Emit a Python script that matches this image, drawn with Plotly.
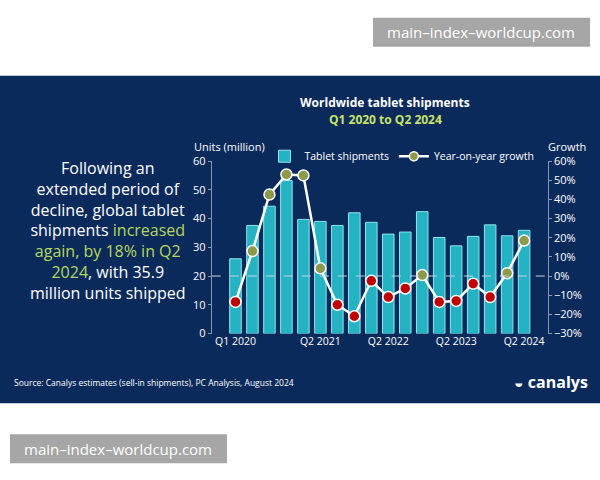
import plotly.graph_objects as go

quarters = ["Q1 2020", "Q2 2020", "Q3 2020", "Q4 2020", "Q1 2021", "Q2 2021", "Q3 2021", "Q4 2021",
            "Q1 2022", "Q2 2022", "Q3 2022", "Q4 2022", "Q1 2023", "Q2 2023", "Q3 2023", "Q4 2023",
            "Q1 2024", "Q2 2024"]
shipments = [26.0, 37.6, 44.3, 53.2, 39.7, 39.0, 37.6, 42.0, 38.7, 34.6, 35.3, 42.4, 33.4, 30.5, 33.8, 37.8, 34.0, 35.9]
growth = [-13.5, 13, 42.5, 53, 52.5, 4, -15, -21, -2.5, -11, -6.5, 0.5, -13.5, -13, -4, -11, 1.5, 18.5]
tick_labels = ["Q1 2020", "Q2 2021", "Q2 2022", "Q2 2023", "Q2 2024"]

marker_cols = ["#c00000" if g < 0 else "#8c9a4c" for g in growth]
font = "Open Sans"

fig = go.Figure()
fig.add_trace(go.Bar(x=quarters, y=shipments, name="Tablet shipments",
                     marker=dict(color="#25b3c3", line=dict(color="#8fe3ec", width=1)),
                     width=0.68))
fig.add_trace(go.Scatter(x=quarters, y=growth, name="Year-on-year growth", yaxis="y2",
                         mode="lines+markers", line=dict(color="white", width=2.5), showlegend=False,
                         marker=dict(color=marker_cols, size=11, line=dict(color="white", width=1.5))))
# legend entry with the green marker
fig.add_trace(go.Scatter(x=[None], y=[None], name="Year-on-year growth", yaxis="y2",
                         mode="lines+markers", line=dict(color="white", width=2.5),
                         marker=dict(color="#8c9a4c", size=9, line=dict(color="white", width=1.5))))

fig.add_shape(type="rect", xref="paper", yref="paper", x0=0, x1=1, y0=1 - 408 / 480, y1=1 - 70 / 480,
              fillcolor="#0b2a5c", line_width=0, layer="below")
fig.add_shape(type="line", xref="paper", yref="y", x0=0.353, x1=0.913, y0=20, y1=20,
              line=dict(color="#c8d4e4", width=1, dash="dash"))

ann = []
ann.append(dict(x=385 / 600, y=1 - 98 / 480, text="<b>Worldwide tablet shipments</b>",
                font=dict(size=12, color="white")))
ann.append(dict(x=385 / 600, y=1 - 115 / 480, text="<b>Q1 2020 to Q2 2024</b>",
                font=dict(size=12, color="#c9e36a")))
g = "<span style='color:#b6d85a'>"
left_text = ("Following an<br>extended period of<br>decline, global tablet<br>shipments " + g +
             "increased</span><br>" + g + "again, by 18% in Q2</span><br>" + g +
             "2024</span>, with 35.9<br>million units shipped")
ann.append(dict(x=108 / 600, y=1 - 230 / 480, text=left_text, font=dict(size=16, color="white"),
                align="center"))
ann.append(dict(x=192 / 600, y=1 - 143 / 480, text="Units (million)", xanchor="left",
                font=dict(size=11, color="white")))
ann.append(dict(x=588 / 600, y=1 - 143 / 480, text="Growth", xanchor="right",
                font=dict(size=11, color="white")))
ann.append(dict(x=12 / 600, y=1 - 387 / 480, text="Source: Canalys estimates (sell-in shipments), PC Analysis, August 2024",
                xanchor="left", font=dict(size=8.5, color="white")))
ann.append(dict(x=590 / 600, y=1 - 386 / 480, text="<b>\u25d2 canalys</b>", xanchor="right",
                font=dict(size=16, color="white")))
for x0, y0 in [(373, 10), (10, 440)]:
    fig.add_shape(type="rect", xref="paper", yref="paper", x0=x0 / 600, x1=(x0 + 217) / 600,
                  y0=1 - (y0 + 30) / 480, y1=1 - y0 / 480, fillcolor="#a6a6a6", line_width=0)
    ann.append(dict(x=(x0 + 108) / 600, y=1 - (y0 + 15) / 480, text="main\u2013index\u2013worldcup.com",
                    font=dict(size=15, color="white")))
for a in ann:
    a.update(xref="paper", yref="paper", showarrow=False, yanchor="middle")
    a.setdefault("xanchor", "center")

fig.update_layout(
    width=600, height=480, margin=dict(l=0, r=0, t=0, b=0),
    paper_bgcolor="white", plot_bgcolor="rgba(0,0,0,0)",
    font=dict(family=font, color="white", size=11),
    annotations=ann, bargap=0.3,
    legend=dict(orientation="h", x=0.67, y=1 - 153 / 480, xanchor="center", yanchor="middle",
                bgcolor="rgba(0,0,0,0)", font=dict(size=10.5, color="white")),
    xaxis=dict(domain=[0.353, 0.913], tickmode="array", tickvals=tick_labels, ticktext=tick_labels,
               showgrid=False, showline=False, ticks="", tickfont=dict(size=10.5, color="white")),
    yaxis=dict(range=[0, 60], dtick=10, showgrid=False, showline=True, linecolor="#8898b0",
               zeroline=False, ticks="outside", ticklen=3, tickcolor="#8898b0",
               tickfont=dict(size=11, color="white")),
    yaxis2=dict(range=[-30, 60], dtick=10, overlaying="y", side="right", anchor="x",
                showgrid=False, showline=True, zeroline=False, linecolor="#8898b0", ticks="outside",
                ticklen=3, tickcolor="#8898b0", ticksuffix="%", tickfont=dict(size=11, color="white")),
)
fig.update_yaxes(domain=[1 - 336 / 480, 1 - 158 / 480])

fig.write_html("out.html", config={"displayModeBar": False},
               post_script="document.body.style.margin='0';")
